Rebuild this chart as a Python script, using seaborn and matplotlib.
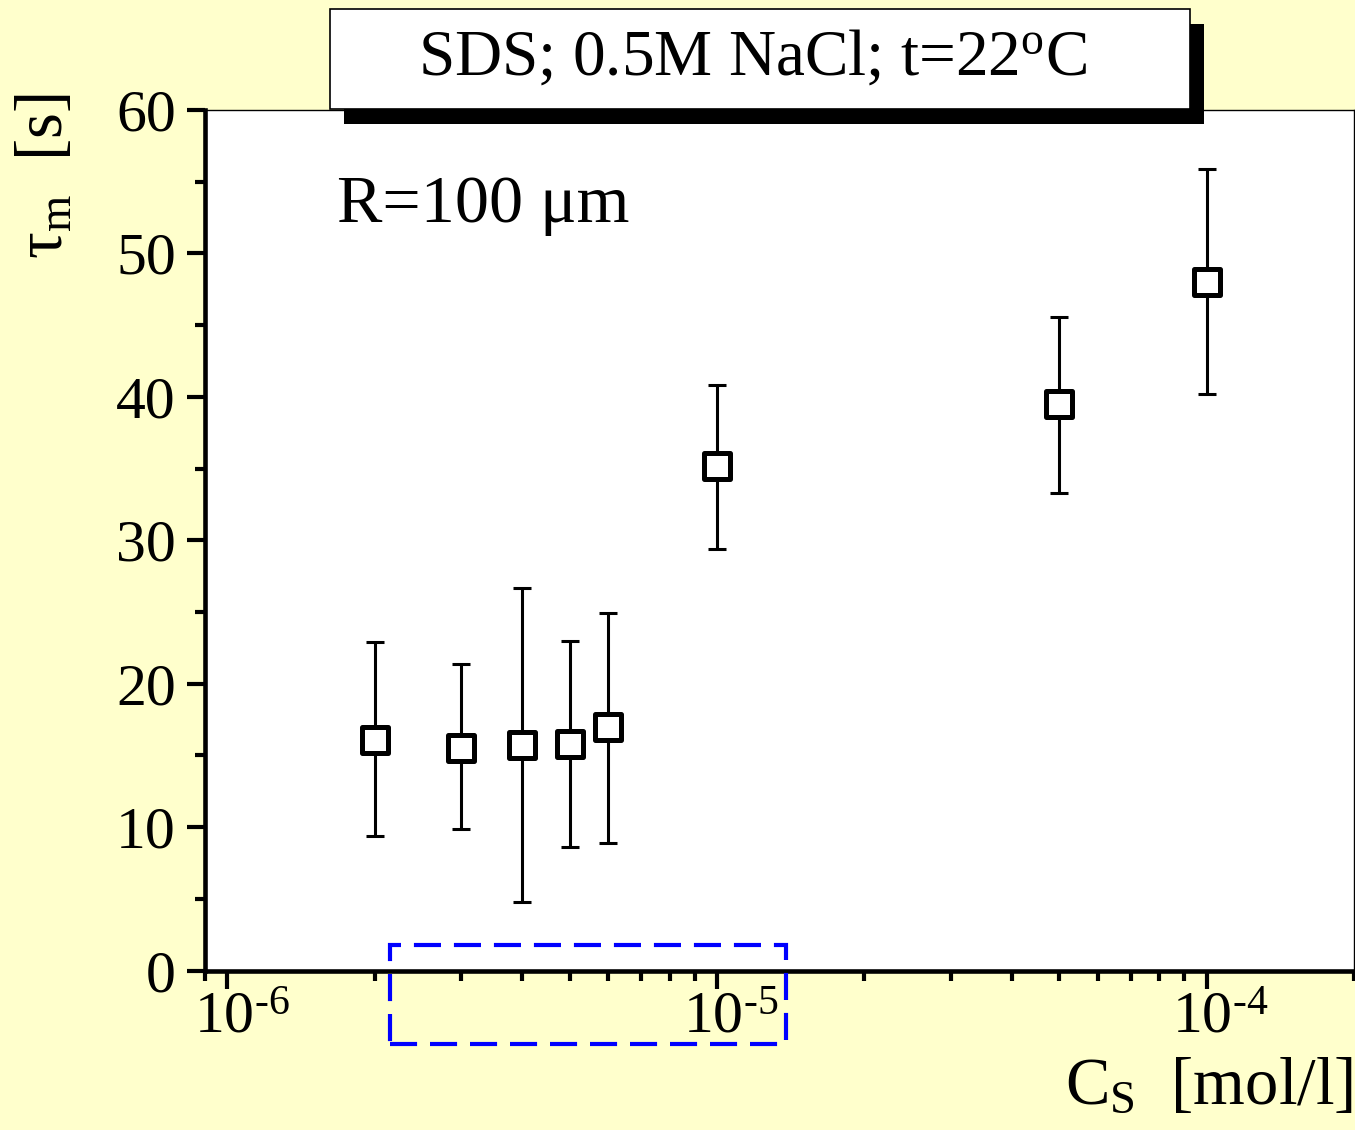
import numpy as np
import pandas as pd
import matplotlib
matplotlib.use("Agg")
import matplotlib.pyplot as plt
import matplotlib.transforms as mtransforms
from matplotlib.patches import Rectangle
from matplotlib.ticker import LogLocator, NullFormatter, MultipleLocator, FixedLocator
import seaborn as sns

# ---- data ----
conc = [2e-6, 3e-6, 4e-6, 5e-6, 6e-6, 1e-5, 5e-5, 1e-4]
tau = [16.1, 15.5, 15.7, 15.8, 17.0, 35.2, 39.5, 48.0]
tau_upper = [22.9, 21.4, 26.7, 23.0, 24.9, 40.8, 45.6, 55.9]
tau_lower = [9.4, 9.9, 4.8, 8.6, 8.9, 29.4, 33.3, 40.2]

xtick_values = [1e-6, 1e-5, 1e-4]
xtick_labels = [r"$10^{\text{-}6}$", r"$10^{\text{-}5}$", r"$10^{\text{-}4}$"]
ytick_values = [0, 10, 20, 30, 40, 50, 60]
ytick_labels = ["0", "10", "20", "30", "40", "50", "60"]

title_text = r"SDS; 0.5M NaCl; t=22$^{\rm o}$C"
annot_text = "R=100 μm"
xlabel_text = r"C$_{\rm S}$  [mol/l]"
ylabel_text = r"τ$_{\rm m}$  [s]"

df = pd.DataFrame({"conc": conc, "tau": tau, "upper": tau_upper, "lower": tau_lower})

# ---- style ----
sns.set_theme(style="ticks")
plt.rcParams["font.family"] = ["Liberation Serif", "DejaVu Serif"]
plt.rcParams["mathtext.fontset"] = "custom"
plt.rcParams["mathtext.rm"] = "Liberation Serif"
plt.rcParams["mathtext.it"] = "Liberation Serif:italic"
plt.rcParams["mathtext.bf"] = "Liberation Serif:bold"
plt.rcParams["mathtext.default"] = "regular"

BG = "#FFFFCC"
W, H = 1355, 1130
fig = plt.figure(figsize=(W / 100, H / 100), dpi=100, facecolor=BG)
ax = fig.add_axes([205 / W, 1 - 970.5 / H, (1354 - 205) / W, (970.5 - 110) / H])
ax.set_facecolor("white")

# error bars
yerr = np.array([df["tau"] - df["lower"], df["upper"] - df["tau"]])
ax.errorbar(df["conc"], df["tau"], yerr=yerr, fmt="none", ecolor="black",
            elinewidth=2.2, capsize=6.8, capthick=2.2, zorder=2)
# markers
sns.scatterplot(data=df, x="conc", y="tau", ax=ax, marker="s", s=350,
                color="white", edgecolor="black", linewidth=3.6, zorder=3,
                legend=False)

ax.set_xscale("log")
ax.set_xlim(9e-7, 2e-4)
ax.set_ylim(0, 60)

ax.xaxis.set_major_locator(FixedLocator(xtick_values))
ax.set_xticklabels(xtick_labels)
ax.xaxis.set_minor_locator(LogLocator(base=10, subs=np.arange(2, 10)))
ax.xaxis.set_minor_formatter(NullFormatter())
ax.set_yticks(ytick_values)
ax.set_yticklabels(ytick_labels)
ax.yaxis.set_minor_locator(MultipleLocator(5))

ax.tick_params(axis="both", which="major", direction="out", length=13,
               width=3.0, color="black", labelsize=43, labelcolor="black")
ax.tick_params(axis="both", which="minor", direction="out", length=7,
               width=3.0, color="black")
ax.tick_params(axis="x", which="major", pad=2)
ax.tick_params(axis="y", which="major", pad=8)

for side in ["left", "bottom"]:
    ax.spines[side].set_linewidth(3.3)
    ax.spines[side].set_color("black")
for side in ["top", "right"]:
    ax.spines[side].set_linewidth(1.0)
    ax.spines[side].set_color("black")
    ax.spines[side].set_visible(True)

# shift x tick labels so the "10" sits on the tick
offset = mtransforms.ScaledTranslation(14 / 100, 0, fig.dpi_scale_trans)
for lab in ax.get_xticklabels():
    lab.set_transform(lab.get_transform() + offset)

# axis labels
ax.set_xlabel(xlabel_text, fontsize=48, color="black")
ax.xaxis.label.set_horizontalalignment("right")
ax.xaxis.label.set_verticalalignment("baseline")
ax.xaxis.set_label_coords((1353 - 205) / 1149, (970.5 - 1104) / 860.5)

ax.set_ylabel(ylabel_text, fontsize=48, color="black")
ax.yaxis.label.set_horizontalalignment("center")
ax.yaxis.label.set_verticalalignment("baseline")
ax.yaxis.set_label_coords((63 - 205) / 1149, (970.5 - 176) / 860.5)

# annotation
ax.text((337 - 205) / 1149, (970.5 - 222) / 860.5, annot_text, transform=ax.transAxes,
        fontsize=49, ha="left", va="baseline", color="black")

# title box with shadow
fig.patches.append(Rectangle((344 / W, 1 - 124 / H), 860 / W, 100 / H,
                             transform=fig.transFigure, facecolor="black",
                             edgecolor="none", zorder=5))
fig.patches.append(Rectangle((330 / W, 1 - 109 / H), 860 / W, 100 / H,
                             transform=fig.transFigure, facecolor="white",
                             edgecolor="black", linewidth=1.2, zorder=6))
fig.text(752 / W, 1 - 75 / H, title_text, fontsize=47, ha="center", va="baseline",
         color="black", zorder=7)

# blue dashed highlight rectangle
fig.patches.append(Rectangle((390 / W, 1 - 1044 / H), (786 - 390) / W, (1044 - 945) / H,
                             transform=fig.transFigure, facecolor="none",
                             edgecolor="#0000FF", linewidth=3.0,
                             linestyle=(0, (6.5, 3.1)), zorder=8))

fig.savefig("out.png", dpi=100, facecolor=BG)
